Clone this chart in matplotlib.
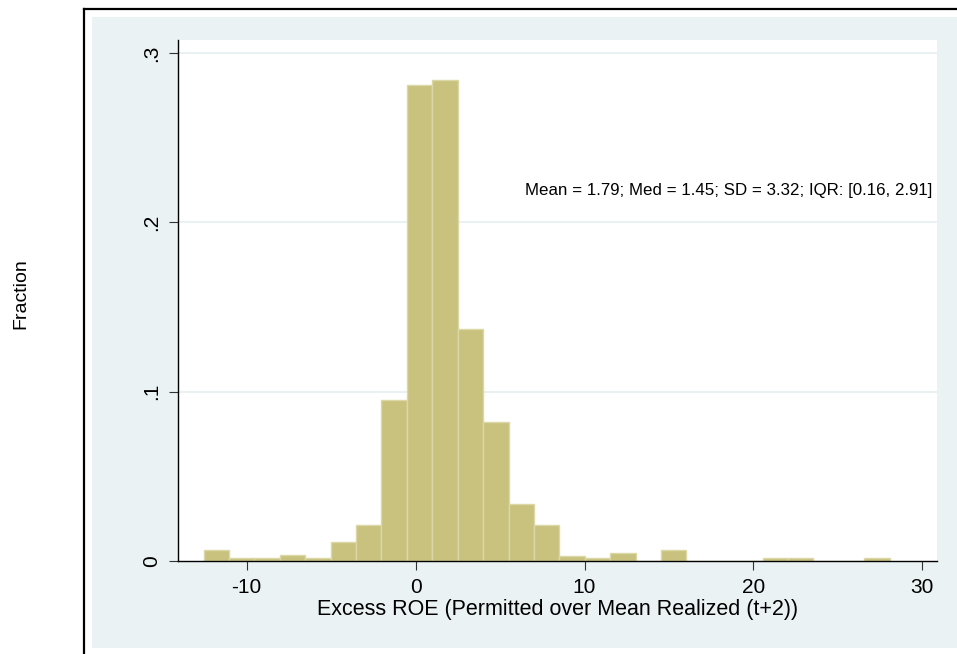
import matplotlib.pyplot as plt
from matplotlib.patches import Rectangle
from matplotlib.lines import Line2D

# histogram bins
bin_start = -12.55
bin_width = 1.504
fractions = [0.0063, 0.0016, 0.0016, 0.0034, 0.0016, 0.0112, 0.0211,
             0.0953, 0.2810, 0.2840, 0.1370, 0.0820, 0.0337, 0.0211,
             0.0031, 0.0016, 0.0047, 0.0, 0.0063, 0.0, 0.0, 0.0,
             0.0016, 0.0016, 0.0, 0.0, 0.0016]

x_ticks = [-10, 0, 10, 20, 30]
y_ticks = [0, 0.1, 0.2, 0.3]
y_tick_labels = ['0', '.1', '.2', '.3']
stats_text = 'Mean = 1.79; Med = 1.45; SD = 3.32; IQR: [0.16, 2.91]'

plt.rcParams['font.family'] = ['Liberation Sans', 'DejaVu Sans']

fig = plt.figure(figsize=(9.57, 6.54), dpi=100)

# graph region (light blue) and the black frame, cut at right/bottom
fig.patches.append(Rectangle((0.0961, 0.0092), 0.91, 0.9648, transform=fig.transFigure,
                             facecolor='#EAF2F3', edgecolor='none', zorder=-5))
fig.lines.append(Line2D([0.0878, 0.0878], [0, 0.9862], transform=fig.transFigure,
                        color='black', lw=1.6, zorder=-4))
fig.lines.append(Line2D([0.0878, 1.0], [0.9862, 0.9862], transform=fig.transFigure,
                        color='black', lw=1.6, zorder=-4))

ax = fig.add_axes([0.186, 0.1422, 0.7928, 0.7966])
ax.set_zorder(2)
ax.set_facecolor('white')

lefts = [bin_start + i * bin_width for i in range(len(fractions))]
ax.bar(lefts, fractions, width=bin_width, align='edge',
       color='#C9C27F', edgecolor='#DCD7A6', linewidth=1.0, zorder=2)

ax.set_xlim(-14.07, 30.85)
ax.set_ylim(0, 0.3077)

for y in y_ticks[1:]:
    ax.axhline(y, color='#E6EFF1', lw=1.2, zorder=1)

ax.set_xticks(x_ticks)
ax.set_xticklabels([str(t) for t in x_ticks], fontsize=15)
ax.set_yticks(y_ticks)
ax.set_yticklabels(y_tick_labels, fontsize=15, rotation=90, va='center')
ax.tick_params(length=6.5, width=0.8, pad=6, color='#333333')

for s in ['top', 'right']:
    ax.spines[s].set_visible(False)
for s in ['left', 'bottom']:
    ax.spines[s].set_linewidth(1.0)

ax.text(6.5, 0.219, stats_text, fontsize=12.2, ha='left', va='center')

ax.set_xlabel('Excess ROE (Permitted over Mean Realized (t+2))', fontsize=15.5, labelpad=1)
fig.text(21 / 957, 1 - 294 / 654, 'Fraction', rotation=90, fontsize=14,
         ha='center', va='center')

fig.savefig('out.png', dpi=100)
